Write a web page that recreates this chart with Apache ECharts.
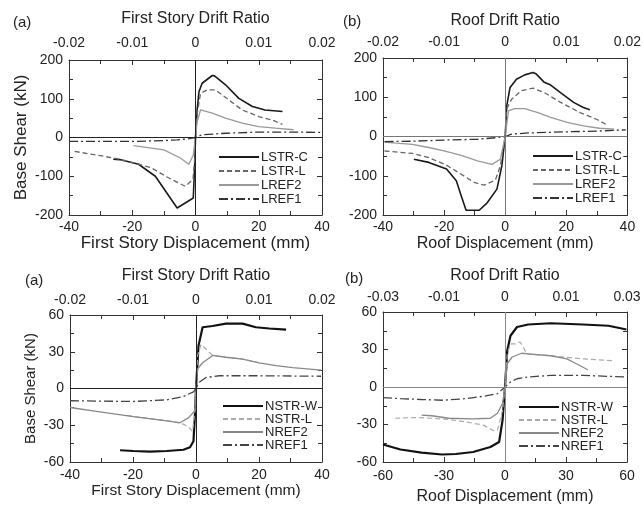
<!DOCTYPE html>
<html>
<head>
<meta charset="utf-8">
<script src="https://cdn.jsdelivr.net/npm/echarts@6/dist/echarts.min.js"></script>
<style>
  html, body { margin: 0; padding: 0; background: #fff; }
  #chart { width: 644px; height: 506px; }
</style>
</head>
<body>
<div id="chart"></div>
<script>
// panel (a) top: first story, L series
const lstrC_A = [[-26,-56],[-24,-57],[-18,-69],[-12.7,-100],[-5.8,-182],[-0.7,-156],[-0.2,-60],[0,0],[0.5,70],[1.1,118],[2.1,140],[5.3,160],[6,159],[9.5,136],[13.7,101],[18,80],[22,71],[27.5,67]]
const lstrL_A = [[-38.2,-36],[-30,-47],[-24,-56],[-18,-69],[-14,-78],[-9,-102],[-3.2,-126],[-0.8,-108],[-0.3,-60],[0,0],[0.5,60],[1.6,114],[3.7,123],[6.3,123],[10.5,97],[14.8,71],[20,54],[24.3,45],[27.5,34]]
const lref2_A = [[-19.6,-21],[-10,-32],[-4.8,-53],[-2.1,-69],[-0.7,-45],[0,0],[0.5,40],[1.6,71],[5.3,63],[9.5,50],[14.8,37],[20,28],[25.3,24],[31,20]]
const lref1_A = [[-40,-10],[-30,-10],[-19.6,-10],[-10,-8],[-5.8,-6],[-2,-3],[0,0],[2,7],[9.5,11],[20,14],[30.6,14],[40,13]]

// panel (b) top: roof, L series
const lstrC_B = [[-29.9,-58],[-25,-66],[-21.9,-75],[-19.2,-83],[-16,-113],[-14.4,-151],[-12.8,-188],[-8.5,-188],[-5.9,-169],[-2.7,-134],[-1.1,-75],[0,0],[0.5,78],[1.6,125],[3.7,146],[6.4,157],[9.1,163],[10.2,159],[12.8,138],[14.9,131],[18.1,112],[22.4,87],[25.6,74],[27.7,68]]
const lstrL_B = [[-39.5,-37],[-30.4,-43],[-25,-54],[-19.7,-71],[-14.4,-96],[-10.1,-117],[-6.9,-124],[-3.2,-111],[-1.6,-75],[0,0],[0.5,70],[2.1,95],[5.3,117],[9.1,123],[12.8,112],[18.1,87],[24.5,61],[29.9,44],[33,31]]
const lref2_B = [[-39.5,-14],[-35.7,-17],[-30.4,-20],[-25,-28],[-19.7,-37],[-14.4,-48],[-9.1,-62],[-4.3,-71],[-1.6,-58],[0,0],[1.1,66],[3.2,71],[6.4,71],[10.7,61],[14.9,49],[20.3,36],[25.6,27],[30.9,21],[35.7,19]]
const lref1_B = [[-39.5,-13],[-30.4,-12],[-19.7,-9],[-9,-7],[-3,-3],[0,0],[2.1,6],[7.5,9],[20.3,12],[30.9,14],[39.5,17]]

// panel (a) bottom: first story, N series
const nstrW_C = [[-24.1,-50.4],[-19.9,-51],[-14.6,-51.5],[-9.3,-51],[-4,-50],[-1.9,-48],[-0.8,-43],[-0.3,-20],[0,0],[0.8,35],[2.1,50],[5.3,51],[9.5,53],[14.8,53],[19,50],[23.3,49],[28.6,48]]
const nstrL_C = [[-22,-22],[-15,-24.5],[-10,-26],[-5,-28],[-2.5,-31],[-1.1,-35],[-0.3,-17],[0,0],[0.5,27],[1.6,36],[3.2,32],[5.3,27],[9.5,25.5],[14.8,24],[20,21]]
const nref2_C = [[-40,-15.5],[-30.5,-19],[-19.9,-23],[-9.3,-26.5],[-5.1,-28],[-2.4,-24],[-0.3,-18],[0,0],[0.5,16],[2.1,21],[5.3,27],[9.5,25.5],[14.8,24],[20,21],[25.4,18.6],[30.7,17],[39.7,15]]
const nref1_C = [[-40,-10],[-19.9,-10.6],[-9.3,-9.3],[-4,-6.5],[-0.8,-2.7],[0,0],[1,5],[3.2,9],[7.4,10.4],[20,10.4],[39.7,10]]

// panel (b) bottom: roof, N series
const nstrW_D = [[-60,-46],[-51.4,-50],[-41,-52.5],[-31,-54],[-24.2,-53.6],[-15.7,-52],[-7.2,-48],[-2.9,-44],[-1.2,-26.5],[0,0],[1.1,29],[2.7,41],[5.9,48],[11.4,50],[22.5,51],[38.3,50],[50.9,49],[59.7,46]]
const nstrL_D = [[-54,-25],[-44.6,-24.4],[-36,-25],[-27.6,-26],[-19,-28],[-10.6,-30.5],[-5.5,-35],[-3.7,-34.5],[-1.2,-18.6],[0,0],[1.1,26.5],[2.7,34.5],[5.1,34.5],[7.4,36],[9,32],[10.6,26.5],[22.5,25],[38.3,22.5],[54,21]]
const nref2_D = [[-41,-22.5],[-36,-23],[-27.6,-25],[-15.7,-25.5],[-7.2,-25],[-3.7,-21],[-1.2,-13],[0,0],[1.1,18.6],[3.5,24],[8.2,27],[11.4,26.5],[22.5,25],[30.4,22.5],[35.1,18.6],[40.7,13.8]]
const nref1_D = [[-60,-8.5],[-51.4,-9.3],[-41,-10],[-31,-10.6],[-19,-9.3],[-10.6,-7.4],[-3.7,-5.3],[0,0],[2.7,4],[5.9,6.6],[11.4,8],[22.5,9.3],[38.3,9.3],[59.7,8]]

const topLabels40 = ['-0.02', '-0.01', '0', '0.01', '0.02']
const topLabels60 = ['-0.03', '-0.01', '0', '0.01', '0.03']
const lNames = ['LSTR-C', 'LSTR-L', 'LREF2', 'LREF1']
const nNames = ['NSTR-W', 'NSTR-L', 'NREF2', 'NREF1']

const FONT = '"Liberation Sans", Arial, sans-serif'
const INK = '#222'

const grids = [
  { left: 69, top: 60, width: 253, height: 155 },
  { left: 383, top: 58, width: 251, height: 157 },
  { left: 70, top: 315, width: 252, height: 147 },
  { left: 383, top: 312, width: 244, height: 151 }
]

function baseAxis(grid, min, max, interval) {
  return {
    type: 'value', gridIndex: grid, min: min, max: max, interval: interval,
    splitLine: { show: false },
    axisLine: { show: true, onZero: false, lineStyle: { color: '#333', width: 1 } },
    axisTick: { show: true, inside: true, length: 5, lineStyle: { color: '#333' } },
    minorTick: { show: true, splitNumber: 2, length: 4, lineStyle: { color: '#333' } },
    axisLabel: { color: INK, fontSize: 14, fontFamily: FONT },
    nameTextStyle: { color: INK, fontSize: 16, fontFamily: FONT }
  }
}

function xBottom(grid, lim, itv, name, margin, gap, size) {
  const a = baseAxis(grid, -lim, lim, itv)
  a.position = 'bottom'
  a.name = name
  a.nameLocation = 'middle'
  a.nameGap = gap
  a.axisLabel.margin = margin
  if (size) a.nameTextStyle.fontSize = size
  return a
}
function xTop(grid, lim, itv, name, labels, margin, gap) {
  const a = baseAxis(grid, -lim, lim, itv)
  a.position = 'top'
  a.name = name
  a.nameLocation = 'middle'
  a.nameGap = gap
  a.axisLabel.margin = margin
  a.axisLabel.formatter = (v, i) => labels[i]
  return a
}
function yLeft(grid, lim, itv, name, gap, size) {
  const a = baseAxis(grid, -lim, lim, itv)
  a.position = 'left'
  a.axisLabel.margin = 6
  if (name) {
    a.name = name
    a.nameLocation = 'middle'
    a.nameGap = gap
    a.nameTextStyle.fontSize = size
  }
  return a
}
function yRight(grid, lim, itv) {
  const a = baseAxis(grid, -lim, lim, itv)
  a.position = 'right'
  a.axisLabel = { show: false }
  return a
}

const styles = {
  'LSTR-C': { color: '#1a1a1a', width: 1.6, type: 'solid' },
  'LSTR-L': { color: '#666', width: 1.3, type: [5, 3] },
  'LREF2': { color: '#999', width: 1.3, type: 'solid' },
  'LREF1': { color: '#333', width: 1.3, type: [9, 3, 2, 3] },
  'NSTR-W': { color: '#111', width: 2.2, type: 'solid' },
  'NSTR-L': { color: '#aaa', width: 1.2, type: [5, 3] },
  'NREF2': { color: '#888', width: 1.3, type: 'solid' },
  'NREF1': { color: '#444', width: 1.3, type: [9, 3, 2, 3] }
}

function line(name, data, idx, zeroColor) {
  const s = styles[name]
  const ser = {
    name: name, type: 'line', xAxisIndex: idx * 2, yAxisIndex: idx * 2,
    data: data, symbol: 'none', smooth: false, animation: false,
    itemStyle: { color: s.color },
    lineStyle: { color: s.color, width: s.width, type: s.type }
  }
  if (zeroColor) {
    ser.markLine = {
      silent: true, symbol: 'none', label: { show: false },
      lineStyle: { color: zeroColor, width: 1, type: 'solid' },
      data: [{ xAxis: 0 }, { yAxis: 0 }]
    }
  }
  return ser
}

function legend(names, left, top, gap) {
  return {
    data: names, orient: 'vertical', left: left, top: top, padding: 0,
    itemWidth: 40, itemHeight: 10, itemGap: gap,
    selectedMode: false, align: 'left',
    itemStyle: { opacity: 0 },
    textStyle: { color: INK, fontSize: 13, fontFamily: FONT, lineHeight: 14, padding: [0, 0, 0, -3] }
  }
}

function label(text, x, y) {
  return { type: 'text', left: x, top: y, style: { text: text, fill: INK, font: '15px ' + FONT } }
}

const option = {
  backgroundColor: '#fff',
  grid: grids,
  xAxis: [
    xBottom(0, 40, 20, 'First Story Displacement (mm)', 5, 20, 17),
    xTop(0, 40, 20, 'First Story Drift Ratio', topLabels40, 10, 33),
    xBottom(1, 40, 20, 'Roof Displacement (mm)', 5, 21),
    xTop(1, 40, 20, 'Roof Drift Ratio', topLabels40, 9, 29),
    xBottom(2, 40, 20, 'First Story Displacement (mm)', 6, 18, 15.5),
    xTop(2, 40, 20, 'First Story Drift Ratio', topLabels40, 8, 31),
    xBottom(3, 60, 30, 'Roof Displacement (mm)', 7, 27),
    xTop(3, 60, 30, 'Roof Drift Ratio', topLabels60, 8, 28)
  ],
  yAxis: [
    yLeft(0, 200, 100, 'Base Shear (kN)', 39, 17),
    yRight(0, 200, 100),
    yLeft(1, 200, 100),
    yRight(1, 200, 100),
    yLeft(2, 60, 30, 'Base Shear (kN)', 32, 15),
    yRight(2, 60, 30),
    yLeft(3, 60, 30),
    yRight(3, 60, 30)
  ],
  legend: [
    legend(lNames, 218, 150, 0),
    legend(lNames, 532, 149, 0),
    legend(nNames, 222, 399, -1),
    legend(nNames, 518, 400, -1)
  ],
  graphic: [
    label('(a)', 13, 15),
    label('(b)', 343, 14),
    label('(a)', 25, 273),
    label('(b)', 345, 271)
  ],
  series: [
    line('LSTR-C', lstrC_A, 0, '#222'),
    line('LSTR-L', lstrL_A, 0),
    line('LREF2', lref2_A, 0),
    line('LREF1', lref1_A, 0),
    line('LSTR-C', lstrC_B, 1, '#777'),
    line('LSTR-L', lstrL_B, 1),
    line('LREF2', lref2_B, 1),
    line('LREF1', lref1_B, 1),
    line('NSTR-W', nstrW_C, 2, '#222'),
    line('NSTR-L', nstrL_C, 2),
    line('NREF2', nref2_C, 2),
    line('NREF1', nref1_C, 2),
    line('NSTR-W', nstrW_D, 3, '#888'),
    line('NSTR-L', nstrL_D, 3),
    line('NREF2', nref2_D, 3),
    line('NREF1', nref1_D, 3)
  ]
}

const chart = echarts.init(document.getElementById('chart'), null, { renderer: 'canvas' })
chart.setOption(option)
</script>
</body>
</html>
